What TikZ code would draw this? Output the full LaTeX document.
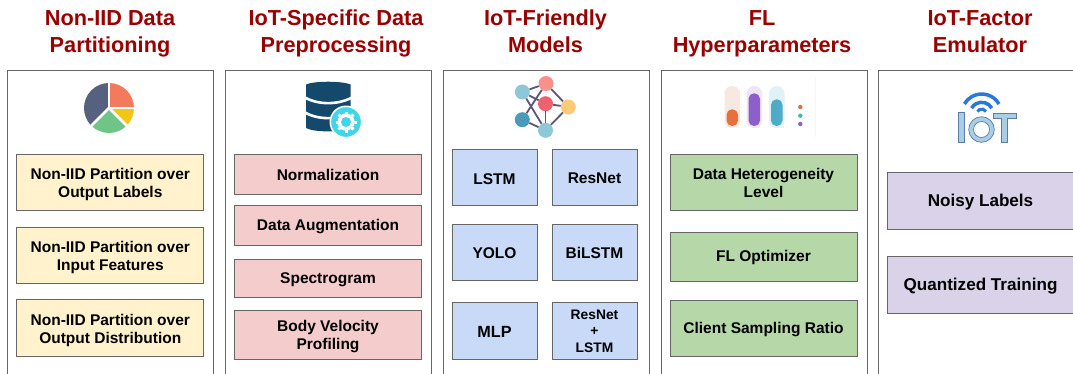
\documentclass[tikz,border=0pt]{standalone}
\usepackage{fontspec}
\setmainfont{Liberation Sans}
\definecolor{titlered}{HTML}{990000}
\definecolor{boxline}{HTML}{666666}
\definecolor{yel}{HTML}{FFF2CC}
\definecolor{pnk}{HTML}{F4CCCC}
\definecolor{blu}{HTML}{C9DAF8}
\definecolor{grn}{HTML}{B6D7A8}
\definecolor{pur}{HTML}{D9D2E9}
\definecolor{dbblue}{HTML}{14496C}
\definecolor{netline}{HTML}{5E5578}
\definecolor{pieO}{HTML}{F27B5E}
\definecolor{pieY}{HTML}{F2C618}
\definecolor{pieG}{HTML}{6FC587}
\definecolor{pieN}{HTML}{56617F}
\definecolor{gearC}{HTML}{3FD6E8}
\definecolor{nA}{HTML}{8CC8D8}
\definecolor{nB}{HTML}{F7918A}
\definecolor{nC}{HTML}{EE6270}
\definecolor{nD}{HTML}{FDCB78}
\definecolor{nE}{HTML}{4A9ABB}
\definecolor{barO}{HTML}{E8703C}
\definecolor{barP}{HTML}{8C5FCB}
\definecolor{barT}{HTML}{4FACC6}
\definecolor{haloO}{HTML}{F8E8E2}
\definecolor{haloP}{HTML}{EEE6F8}
\definecolor{haloT}{HTML}{E0F1F7}
\definecolor{wifi}{HTML}{2B78DC}
\definecolor{iotF}{HTML}{A9CDE4}
\definecolor{iotL}{HTML}{5A7CA6}
\tikzset{
 panel/.style={draw=boxline,line width=1pt,fill=white,minimum width=206pt,minimum height=340pt,anchor=north west,inner sep=0pt,outer sep=0pt},
 titletext/.style={text=titlered,font=\fontsize{21.7}{26.8}\selectfont\bfseries,align=center,anchor=center,inner sep=0pt},
 item/.style={draw=boxline,line width=1pt,anchor=north west,inner sep=0pt,outer sep=0pt,align=center,font=\fontsize{15.5}{18.3}\selectfont\bfseries,execute at begin node={\rule{0pt}{14pt}}},
 nolift/.style={execute at begin node={}},
 bigitem/.style={font=\fontsize{17.1}{20}\selectfont\bfseries,execute at begin node={\rule{0pt}{15.4pt}}},
 mlpitem/.style={font=\fontsize{16.2}{20}\selectfont\bfseries},
 stackitem/.style={font=\fontsize{13.8}{16.6}\selectfont\bfseries},
 netnode/.style={circle,minimum size=15pt,inner sep=0pt},
 netedge/.style={netline,line width=1.8pt},
 halo/.style={rounded corners=7.5pt},
 bar/.style={rounded corners=5.5pt},
 iotshape/.style={fill=iotF,draw=iotL,line width=0.7pt},
 wifiarc/.style={wifi,line width=3.5pt},
}
\newcommand{\itembox}[6][]{\node[item,#1,fill=#2,minimum width=#5pt,minimum height=#6pt] (#3) at (#4)}
\newcommand{\lifted}[2]{\raisebox{0pt}[\dimexpr\height+#1\relax]{\begin{tabular}{@{}c@{}}#2\end{tabular}}}
\begin{document}
\begin{tikzpicture}[x=1pt,y=-1pt]
\useasboundingbox (0,0) rectangle (1073,373);
\clip (0,0) rectangle (1073,373);
% titles
\node[titletext] (t1) at (110,33.7) {Non-IID Data\\Partitioning};
\node[titletext] (t2) at (336,33.7) {IoT-Specific Data\\Preprocessing};
\node[titletext] (t3) at (545.5,31.5) {IoT-Friendly\\Models};
\node[titletext] (t4) at (762,33.7) {FL\\Hyperparameters};
\node[titletext] (t5) at (980,31.5) {IoT-Factor\\Emulator};
% panels
\node[panel] (p1) at (7.3,70) {};
\node[panel] (p2) at (225.3,70) {};
\node[panel] (p3) at (443,70) {};
\node[panel] (p4) at (661,70) {};
\node[panel] (p5) at (878,70) {};
% column 1
\itembox{yel}{a1}{16.8,154}{187}{56.5} {\lifted{5pt}{Non-IID Partition over\\Output Labels}};
\itembox{yel}{a2}{16.8,227}{187}{56.5} {\lifted{5pt}{Non-IID Partition over\\Input Features}};
\itembox{yel}{a3}{16.8,299.7}{187}{57} {\lifted{5pt}{Non-IID Partition over\\Output Distribution}};
% column 2
\itembox{pnk}{b1}{234.5,154}{187}{40} {Normalization};
\itembox{pnk}{b2}{234.5,205}{187}{40} {Data Augmentation};
\itembox{pnk}{b3}{234.5,259}{187}{38.5} {Spectrogram};
\itembox{pnk}{b4}{234.5,310}{187}{49.5} {\lifted{4pt}{Body Velocity\\Profiling}};
% column 3
\itembox{blu}{c1}{452,149.5}{85}{56} {LSTM};
\itembox{blu}{c2}{552,149}{85}{56} {ResNet};
\itembox[nolift]{blu}{c3}{452,224}{85}{56} {YOLO};
\itembox[nolift]{blu}{c4}{552,224}{85}{56} {BiLSTM};
\itembox[mlpitem]{blu}{c5}{452,302}{85}{57} {MLP};
\itembox[stackitem]{blu}{c6}{552,302}{85}{57} {\lifted{4pt}{ResNet\\+\\LSTM}};
% column 4
\itembox{grn}{d1}{670,154}{187}{56.5} {\lifted{5pt}{Data Heterogeneity\\Level}};
\itembox{grn}{d2}{670,232}{187}{49} {FL Optimizer};
\itembox{grn}{d3}{670,300}{187}{56.5} {Client Sampling Ratio};
% column 5
\itembox[bigitem]{pur}{e1}{887,172}{200}{57} {\hspace*{-13pt}Noisy Labels};
\itembox[bigitem]{pur}{e2}{887,256}{200}{57} {\hspace*{-13pt}Quantized Training};
% pie icon
\begin{scope}[shift={(109,108)},y=1pt]
 \fill[pieO] (0,0) -- (90:25) arc[start angle=90,end angle=0,radius=25] -- cycle;
 \fill[pieY] (0,0) -- (0:25) arc[start angle=0,end angle=-45,radius=25] -- cycle;
 \fill[pieG] (0,0) -- (-45:25) arc[start angle=-45,end angle=-135,radius=25] -- cycle;
 \fill[pieN] (0,0) -- (-135:25) arc[start angle=-135,end angle=-270,radius=25] -- cycle;
 \draw[white,line width=2.6pt] (90:26) -- (0,0) -- (0:26);
 \draw[white,line width=2.6pt] (-135:26) -- (0,0) -- (-45:26);
\end{scope}
% database icon
\fill[dbblue] (306,84.5) .. controls (314,80.8) and (342,80.8) .. (350.7,84.5) -- (350.7,128) .. controls (342,132.5) and (314,132.5) .. (306,128) -- cycle;
\draw[white,line width=2.6pt] (305,97.5) .. controls (318,105) and (338,105) .. (352,97.5);
\draw[white,line width=2.6pt] (305,112.5) .. controls (318,120) and (338,120) .. (352,112.5);
\fill[white] (346,122) circle[radius=16.5];
\fill[gearC] (346,122) circle[radius=14.8];
\foreach \a in {0,45,...,315}{\draw[white,line width=3pt] (346,122) -- ++(\a:10.5);}
\fill[white] (346,122) circle[radius=8.6];
\fill[gearC] (346,122) circle[radius=5];
% network icon
\node[netnode,fill=nA] (n1) at (522.3,92) {};
\node[netnode,fill=nB] (n2) at (546,83.5) {};
\node[netnode,fill=nC] (n3) at (545.5,103.7) {};
\node[netnode,fill=nD] (n4) at (568.3,107) {};
\node[netnode,fill=nE] (n5) at (522.3,119.7) {};
\node[netnode,fill=nA] (n6) at (545.5,130.3) {};
\draw[netedge] (n1) -- (n2);
\draw[netedge] (n1) -- (n3);
\draw[netedge] (n1) -- (n6);
\draw[netedge] (n2) -- (n5);
\draw[netedge] (n2) -- (n4);
\draw[netedge] (n3) -- (n4);
\draw[netedge] (n3) -- (n6);
\draw[netedge] (n4) -- (n6);
\draw[netedge] (n5) -- (n6);
% bars icon
\fill[haloO,halo] (724.5,86) rectangle (740,128);
\fill[haloP,halo] (746.5,86) rectangle (762,128);
\fill[haloT,halo] (769,86) rectangle (784.5,128);
\fill[barO,bar] (726.5,109.3) rectangle (738,126);
\fill[barP,bar] (748.5,93.3) rectangle (760,126);
\fill[barT,bar] (771,99.3) rectangle (782.5,126);
\fill[barO!80!gray] (800.3,107) circle[radius=2.2];
\fill[barT!80!green] (800.3,115.7) circle[radius=2.2];
\fill[barP] (800.3,124) circle[radius=2.2];
\draw[blue!4,line width=0.7pt] (815.7,77) -- (815.7,137);
% IoT icon
\draw[iotshape] (958.3,112.7) rectangle (964,142.3);
\draw[iotshape,even odd rule] (981.5,129.5) circle[radius=12.8] (981.5,129.5) circle[radius=8];
\draw[iotshape] (993,113.3) -- (1016,113.3) -- (1016,118.3) -- (1007.3,118.3) -- (1007.3,142.3) -- (1001.3,142.3) -- (1001.3,118.3) -- (993,118.3) -- cycle;
\begin{scope}[shift={(981.7,114)},y=1pt]
 \draw[wifiarc] (30:20) arc[start angle=30,end angle=150,radius=20];
 \draw[wifiarc] (30:11.7) arc[start angle=30,end angle=150,radius=11.7];
 \draw[wifiarc,line width=3pt] (30:5) arc[start angle=30,end angle=150,radius=5];
\end{scope}
\end{tikzpicture}
\end{document}
